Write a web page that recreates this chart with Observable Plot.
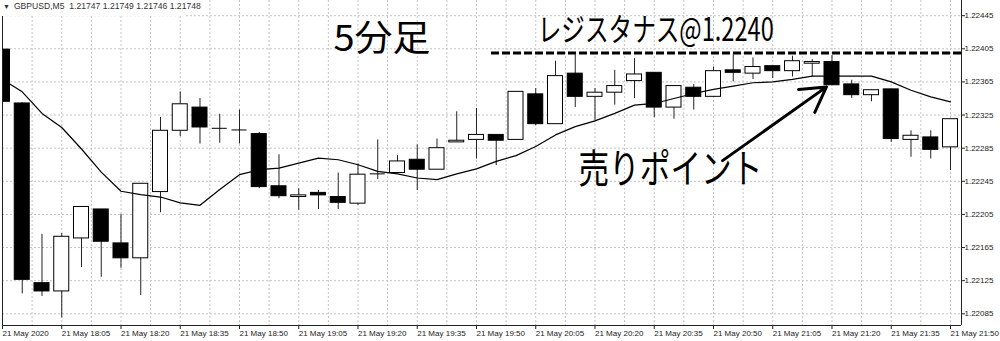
<!DOCTYPE html>
<html>
<head>
<meta charset="utf-8">
<script src="https://cdn.jsdelivr.net/npm/d3@7"></script>
<script src="https://cdn.jsdelivr.net/npm/@observablehq/plot@0.6"></script>
<style>
html, body { margin: 0; padding: 0; background: #fff; }
#wrap { position: relative; width: 1000px; height: 341px; overflow: hidden; }
#chart svg { display: block; }
#hdr { position: absolute; left: 0; top: 0; height: 16px; width: 186px; background: #fff;
       font: 8.6px 'Liberation Sans', Arial, sans-serif; color: #333; line-height: 12px;
       white-space: nowrap; padding-left: 3px; box-sizing: border-box; }
#hdr .tri { font-size: 7px; margin-right: 4px; }
[aria-label^="x-axis"] text { text-anchor: start; }
</style>
</head>
<body>
<div id="wrap">
  <div id="chart"></div>
  <div id="hdr"></div>
</div>
<script>
// ---- data (GBPUSD M5, 21 May 2020, 17:50 .. 21:50) ----
const open  = [1.22404,1.22339,1.22122,1.22112,1.22176,1.22211,1.22170,1.22152,1.22232,1.22306,
               1.22334,1.22309,1.22307,1.22302,1.22239,1.22226,1.22231,1.22226,1.22218,1.22254,
               1.22255,1.22271,1.22259,1.22292,1.22295,1.22301,1.22295,1.22350,1.22314,1.22375,
               1.22347,1.22352,1.22366,1.22376,1.22334,1.22358,1.22347,1.22379,1.22375,1.22384,
               1.22378,1.22387,1.22389,1.22362,1.22349,1.22356,1.22295,1.22298,1.22286];
const high  = [1.22420,1.22340,1.22181,1.22182,1.22214,1.22211,1.22205,1.22242,1.22322,1.22353,
               1.22345,1.22326,1.22331,1.22304,1.22277,1.22236,1.22234,1.22255,1.22266,1.22295,
               1.22276,1.22289,1.22296,1.22329,1.22333,1.22301,1.22353,1.22357,1.22390,1.22399,
               1.22357,1.22379,1.22393,1.22376,1.22360,1.22362,1.22383,1.22398,1.22394,1.22384,
               1.22396,1.22392,1.22397,1.22367,1.22355,1.22356,1.22306,1.22306,1.22320];
const low   = [1.22339,1.22109,1.22106,1.22080,1.22141,1.22129,1.22140,1.22107,1.22207,1.22299,
               1.22290,1.22291,1.22290,1.22236,1.22224,1.22210,1.22211,1.22211,1.22216,1.22247,
               1.22255,1.22234,1.22259,1.22292,1.22272,1.22264,1.22295,1.22312,1.22314,1.22334,
               1.22318,1.22337,1.22345,1.22322,1.22320,1.22331,1.22347,1.22365,1.22368,1.22369,
               1.22371,1.22371,1.22361,1.22345,1.22341,1.22292,1.22274,1.22272,1.22258];
const close = [1.22341,1.22126,1.22112,1.22178,1.22214,1.22172,1.22152,1.22242,1.22306,1.22338,
               1.22310,1.22309,1.22307,1.22238,1.22227,1.22228,1.22228,1.22219,1.22253,1.22254,
               1.22269,1.22259,1.22285,1.22294,1.22301,1.22294,1.22353,1.22314,1.22372,1.22347,
               1.22352,1.22360,1.22374,1.22334,1.22360,1.22347,1.22378,1.22376,1.22383,1.22378,
               1.22390,1.22389,1.22361,1.22349,1.22355,1.22296,1.22300,1.22283,1.22320];
const ma    = [1.22368,1.22353,1.22327,1.22310,1.22284,1.22256,1.22233,1.22229,1.22226,1.22219,
               1.22216,1.22235,1.22253,1.22259,1.22261,1.22267,1.22273,1.22271,1.22265,1.22257,
               1.22254,1.22249,1.22247,1.22254,1.22260,1.22269,1.22276,1.22287,1.22301,1.22311,
               1.22318,1.22327,1.22337,1.22339,1.22345,1.22351,1.22356,1.22360,1.22364,1.22365,
               1.22368,1.22372,1.22372,1.22372,1.22372,1.22365,1.22355,1.22347,1.22341];

const tickLabels = ["21 May 2020","21 May 18:05","21 May 18:20","21 May 18:35","21 May 18:50",
                    "21 May 19:05","21 May 19:20","21 May 19:35","21 May 19:50","21 May 20:05",
                    "21 May 20:20","21 May 20:35","21 May 20:50","21 May 21:05","21 May 21:20",
                    "21 May 21:35","21 May 21:50"];
const tickBars   = [0,3,6,9,12,15,18,21,24,27,30,33,36,39,42,45,48];
const gridBars   = [0,1.5,3,4.5,6,7.5,9,10.5,12,13.5,15,16.5,18,19.5,21,22.5,24,25.5,27,28.5,30,31.5,
                    33,34.5,36,37.5,39,40.5,42,43.5,45,46.5,48];
const priceTicks = [1.22085,1.22125,1.22165,1.22205,1.22245,1.22285,1.22325,1.22365,1.22405,1.22445];

const headerSymbol = "GBPUSD,M5";
const headerQuotes = ["1.21747","1.21749","1.21746","1.21748"];
const resistance = [{price: 1.2240, from: 24.76}];
const notes = [
  {text: "5分足", bar: 16.76, price: 1.22416, size: 36, len: 97},
  {text: "レジスタナス@1.2240", bar: 27.1, price: 1.22427, size: 32, len: 236},
  {text: "売りポイント", bar: 29.16, price: 1.22259, size: 40, len: 184}
];
const arrows = [{bar1: 36.46, price1: 1.22270, bar2: 41.72, price2: 1.22359}];

// ---- build ----
const xMax = 48.557, yMin = 1.2207087, yMax = 1.2246333;
const bars = open.map((o, i) => ({i, o, h: high[i], l: low[i], c: close[i]}));
const bull = bars.filter(d => d.c > d.o + 1e-7);
const bear = bars.filter(d => d.c < d.o - 1e-7);
const doji = bars.filter(d => Math.abs(d.c - d.o) <= 1e-7);
const hw = 0.38;
const grid = {stroke: "#c4c4c4", strokeDasharray: "2,2"};
const jp = "'Noto Sans CJK JP', 'Noto Sans', sans-serif";

const chart = Plot.plot({
  width: 1000, height: 341,
  marginTop: 0, marginBottom: 16, marginLeft: 2, marginRight: 39,
  style: {fontFamily: "'Liberation Sans', Arial, sans-serif", fontSize: "8px", color: "#222", background: "#fff"},
  x: {domain: [0, xMax], ticks: tickBars, tickFormat: i => tickLabels[tickBars.indexOf(i)], tickSize: 4, tickPadding: 1, label: null},
  y: {domain: [yMin, yMax], axis: "right", ticks: priceTicks, tickFormat: d3.format(".5f"), tickSize: 3, tickPadding: 0, label: null},
  marks: [
    Plot.ruleY(priceTicks, grid),
    Plot.ruleX(gridBars, grid),
    Plot.ruleY(resistance, {y: "price", x1: "from", x2: () => xMax, stroke: "#000", strokeWidth: 3, strokeDasharray: "8,3"}),
    Plot.ruleX(bars, {x: "i", y1: "l", y2: "h", stroke: "#222", clip: true}),
    Plot.rect(bull, {x1: d => d.i - hw, x2: d => d.i + hw, y1: "o", y2: "c", fill: "#fff", stroke: "#000", clip: true}),
    Plot.rect(bear, {x1: d => d.i - hw, x2: d => d.i + hw, y1: "o", y2: "c", fill: "#000", stroke: "#000", clip: true}),
    Plot.ruleY(doji, {y: "c", x1: d => d.i - hw, x2: d => d.i + hw, stroke: "#000", clip: true}),
    Plot.line(ma, {x: (d, i) => i, y: d => d, stroke: "#000", strokeWidth: 1.2, clip: true}),
    Plot.ruleX([0, xMax], {stroke: "#222"}),
    Plot.ruleY([yMin], {stroke: "#222"}),
    ...notes.map(n => Plot.text([n], {x: "bar", y: "price", text: "text", textAnchor: "start",
        fontSize: n.size, fontFamily: jp, fill: "#000"})),
    Plot.arrow(arrows, {x1: "bar1", y1: "price1", x2: "bar2", y2: "price2", stroke: "#000", strokeWidth: 3, headLength: 14})
  ]
});

document.getElementById("chart").appendChild(chart);

// fit condensed annotation widths
d3.select(chart).selectAll("text").each(function() {
  const n = notes.find(n => n.text === this.textContent);
  if (n) { this.setAttribute("textLength", n.len); this.setAttribute("lengthAdjust", "spacingAndGlyphs"); }
});

// header label (above the frame, as in the terminal window)
const hdr = document.getElementById("hdr");
hdr.innerHTML = '<span class="tri">▼</span>' + headerSymbol + '&nbsp;&nbsp;' + headerQuotes.join(' ');
</script>
</body>
</html>
